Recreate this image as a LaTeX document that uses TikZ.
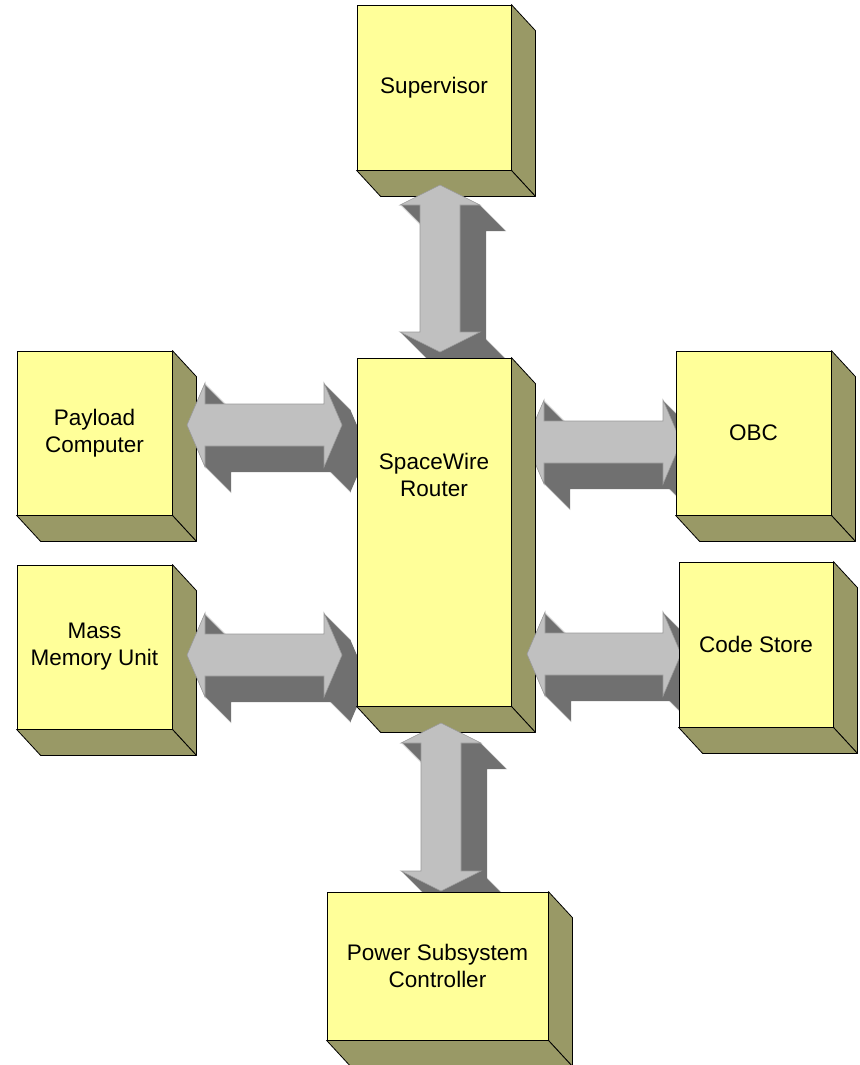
\documentclass[tikz,border=0pt]{standalone}
\usepackage{fontspec}
\setmainfont{Liberation Sans}
\usetikzlibrary{calc}
\definecolor{boxfront}{HTML}{FFFF99}
\definecolor{boxside}{HTML}{999966}
\definecolor{arrowlight}{HTML}{C0C0C0}
\definecolor{arrowdark}{HTML}{707070}
\definecolor{arrowedge}{HTML}{999999}
\tikzset{
  unitbox/.style={draw=black, line width=0.8pt, fill=boxfront, inner sep=0pt,
    align=center, font=\fontsize{22.5}{27}\selectfont},
  boxdepth/.style={draw=black, line width=0.8pt, fill=boxside, line join=round},
  arrowback/.style={fill=arrowdark},
  arrowfrontface/.style={fill=arrowlight, draw=arrowedge, line width=0.6pt, line join=miter},
}
% 3D depth faces of a box node
\newcommand\unitdepth[1]{%
  \filldraw[boxdepth] (#1.north east) -- ($(#1.north east)+(24,-26)$)
     -- ($(#1.south east)+(24,-26)$) -- (#1.south east) -- cycle;
  \filldraw[boxdepth] (#1.south west) -- (#1.south east)
     -- ($(#1.south east)+(24,-26)$) -- ($(#1.south west)+(24,-26)$) -- cycle;
}
% horizontal block double arrow between two named coordinates, offset #3
\newcommand\hface[4]{%
  \path[#4] let \p1=($(#1)+(#3,-#3)$), \p2=($(#2)+(#3,-#3)$) in
   (\x1,\y1) -- (\x1+18pt,\y1+42pt) -- (\x1+18pt,\y1+21pt) -- (\x2-18pt,\y1+21pt)
   -- (\x2-18pt,\y1+42pt) -- (\x2,\y1) -- (\x2-18pt,\y1-42pt) -- (\x2-18pt,\y1-21pt)
   -- (\x1+18pt,\y1-21pt) -- (\x1+18pt,\y1-42pt) -- cycle;}
\newcommand\vface[4]{%
  \path[#4] let \p1=($(#1)+(#3,-#3)$), \p2=($(#2)+(#3,-#3)$) in
   (\x1,\y1) -- (\x1+40pt,\y1-20pt) -- (\x1+20pt,\y1-20pt) -- (\x1+20pt,\y2+20pt)
   -- (\x1+40pt,\y2+20pt) -- (\x1,\y2) -- (\x1-40pt,\y2+20pt) -- (\x1-20pt,\y2+20pt)
   -- (\x1-20pt,\y1-20pt) -- (\x1-40pt,\y1-20pt) -- cycle;}
\newcommand\hblock[2]{%
  \foreach \t in {26,25,...,1}{\hface{#1}{#2}{\t}{arrowback}}
  \hface{#1}{#2}{0}{arrowfrontface}}
\newcommand\vblock[2]{%
  \foreach \t in {26,25,...,1}{\vface{#1}{#2}{\t}{arrowback}}
  \vface{#1}{#2}{0}{arrowfrontface}}

\begin{document}
\begin{tikzpicture}[x=1pt,y=1pt]
\useasboundingbox (0,0) rectangle (859,-1065);
\fill[white] (0,0) rectangle (859,-1065);

% arrow end points
\coordinate (sup-a) at (440,-185);  \coordinate (sup-b) at (440,-352);
\coordinate (pwr-a) at (441,-723);  \coordinate (pwr-b) at (441,-891);
\coordinate (pay-a) at (187,-425);  \coordinate (pay-b) at (342,-425);
\coordinate (mmu-a) at (187,-655);  \coordinate (mmu-b) at (342,-655);
\coordinate (obc-a) at (526,-442);  \coordinate (obc-b) at (681,-442);
\coordinate (cs-a)  at (527,-654);  \coordinate (cs-b)  at (681,-654);

% boxes behind arrows
\node[unitbox, minimum width=154pt, minimum height=165pt] (sup) at (434,-87.5) {Supervisor};
\unitdepth{sup}
\node[unitbox, minimum width=155pt, minimum height=164pt] (pay) at (94.5,-433) {Payload\\Computer};
\unitdepth{pay}
\node[unitbox, minimum width=155pt, minimum height=164pt] (mmu) at (94.5,-647) {Mass\\Memory Unit};
\unitdepth{mmu}

% arrows behind the router
\vblock{sup-a}{sup-b}
\hblock{pay-a}{pay-b}
\hblock{mmu-a}{mmu-b}
\hblock{obc-a}{obc-b}

% router
\node[unitbox, minimum width=154pt, minimum height=348pt,
  label={[align=center, font=\fontsize{22.5}{27}\selectfont, yshift=57pt]center:SpaceWire\\Router}]
  (rtr) at (434,-532) {};
\unitdepth{rtr}

% arrows in front of the router
\hblock{cs-a}{cs-b}
\vblock{pwr-a}{pwr-b}

% boxes in front of arrows
\node[unitbox, minimum width=155pt, minimum height=164pt] (obc) at (753.5,-433) {OBC};
\unitdepth{obc}
\node[unitbox, minimum width=154pt, minimum height=165pt] (cs) at (756,-644.5) {Code Store};
\unitdepth{cs}
\node[unitbox, minimum width=221pt, minimum height=148pt] (pwr) at (437.5,-966) {Power Subsystem\\Controller};
\unitdepth{pwr}
\end{tikzpicture}
\end{document}
